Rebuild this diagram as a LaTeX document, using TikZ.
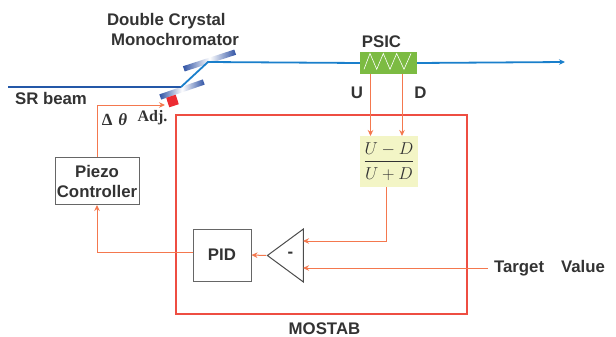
\documentclass[tikz,border=0pt]{standalone}
\usepackage{amsmath}
\usepackage{fontspec}
\setmainfont{Liberation Sans}
\newfontfamily\serifbf{Liberation Serif}
\usetikzlibrary{shapes,arrows.meta}
\definecolor{inkgray}{HTML}{333333}
\definecolor{sigline}{HTML}{F4784E}
\definecolor{framered}{HTML}{EE4E42}
\definecolor{beamdark}{HTML}{2458A8}
\definecolor{beamlight}{HTML}{1A7FCB}
\definecolor{xtalblue}{HTML}{2F52A4}
\definecolor{psicgreen}{HTML}{7CBB42}
\definecolor{fracyellow}{HTML}{F3F5C6}
\definecolor{stagered}{HTML}{EC2B32}
\begin{document}
\begin{tikzpicture}[x=1pt,y=-1pt,>={Stealth[length=6pt,width=5.5pt]}]
        \tikzstyle{every node}=[inner sep=0pt,text=inkgray,font=\fontsize{16.8}{20}\selectfont\bfseries]
        \tikzstyle{box}=[rectangle,draw=black!60,line width=1pt,align=center]
        \tikzstyle{sig}=[draw=sigline,line width=1pt]
        \tikzstyle{crystal}=[rectangle,minimum width=46pt,minimum height=5.5pt,left color=xtalblue,right color=xtalblue,middle color=white]
        \useasboundingbox (0,0) rectangle (616,337);
        % monochromator
        \node[crystal,rotate=19] (xtallow) at (182,89.5) {};
        \node[crystal,rotate=18,minimum width=54pt] (xtalup) at (209.5,60.5) {};
        \node[fill=stagered,minimum size=10pt,rotate=18] (stage) at (172.5,101) {};
        \coordinate (beamin) at (8,87);
        \coordinate (bounce1) at (181,87);
        \coordinate (bounce2) at (208,62);
        \coordinate (beamout) at (565,62);
        % detector and signal boxes
        \node[rectangle,fill=psicgreen,minimum width=57pt,minimum height=22.5pt] (psic) at (388.5,63) {};
        \node[rectangle,fill=fracyellow,minimum width=58pt,minimum height=51pt] (ratio) at (389,161.5) {\raisebox{2pt}{\fontsize{16.5}{18}\selectfont\mdseries$\dfrac{U-D}{\rule{0pt}{15pt}U+D}$}};
        \node[box,minimum width=84pt,minimum height=47pt] (piezo) at (97,181) {Piezo\\Controller};
        \node[box,minimum width=58pt,minimum height=52pt] (pid) at (222,255) {PID};
        \node[isosceles triangle,isosceles triangle stretches,shape border rotate=180,draw=black!70,line width=1pt,minimum width=53pt,minimum height=36pt] (amp) at (290,255.5) {};
        \node (minus) at (290.5,254.5) {-};
        \draw[beamdark,line width=1.8pt] (beamin) -- (bounce1);
        \draw[beamlight,line width=1.8pt] (bounce1) -- (bounce2) -- (psic.west);
        \draw[beamlight,line width=1.8pt,->] (psic.east) -- (beamout);
        \draw[white,line width=0.6pt] (364,69.3) -- (370,53.5) -- (376.7,69.3) -- (383.3,53.5) -- (390,69.3) -- (396.7,53.5) -- (404,69.3) -- (411,53.5);
        % frame
        \draw[framered,line width=1.2pt] (176,115) rectangle (467,314);
        % signals
        \coordinate (uout) at (370.5,74);
        \coordinate (dout) at (402,74);
        \coordinate (uin) at (370.5,136);
        \coordinate (din) at (402,136);
        \coordinate (ratioout) at (386,187);
        \coordinate (ampup) at (303,241);
        \coordinate (amplow) at (303,268);
        \coordinate (pidout) at (193,252);
        \coordinate (corner) at (97,105);
        \coordinate (stagein) at (165,105);
        \draw[sig,->] (uout) -- (uin);
        \draw[sig,->] (dout) -- (din);
        \draw[sig,->] (ratioout) |- (ampup);
        \node (target) at (549.5,268) {Target\hspace{17pt}Value};
        \draw[sig,->] (target.west) ++(-6,0) -- (amplow);
        \draw[sig,->] (amp.apex) -- (pid.east);
        \draw[sig,->] (pidout) -| (piezo.south);
        \draw[sig,->] (piezo.north) -- (corner) -- (stagein);
        % labels
        \node[align=left] (dcm) at (173,29) {Double Crystal\\\hspace{4pt}Monochromator};
        \node (srbeam) at (51,98.5) {SR beam};
        \node (psiclabel) at (381.5,41.5) {PSIC};
        \node (ulabel) at (357,92.5) {U};
        \node (dlabel) at (420.5,92.5) {D};
        \node (dtheta) at (114.5,120) {\serifbf\fontsize{17}{19}\selectfont\symbol{"0394}\hspace{6pt}\itshape\symbol{"03B8}};
        \node (adj) at (152.5,118) {\serifbf\fontsize{16}{18}\selectfont Adj.};
        \node (mostab) at (324.5,328.5) {MOSTAB};
\end{tikzpicture}
\end{document}
